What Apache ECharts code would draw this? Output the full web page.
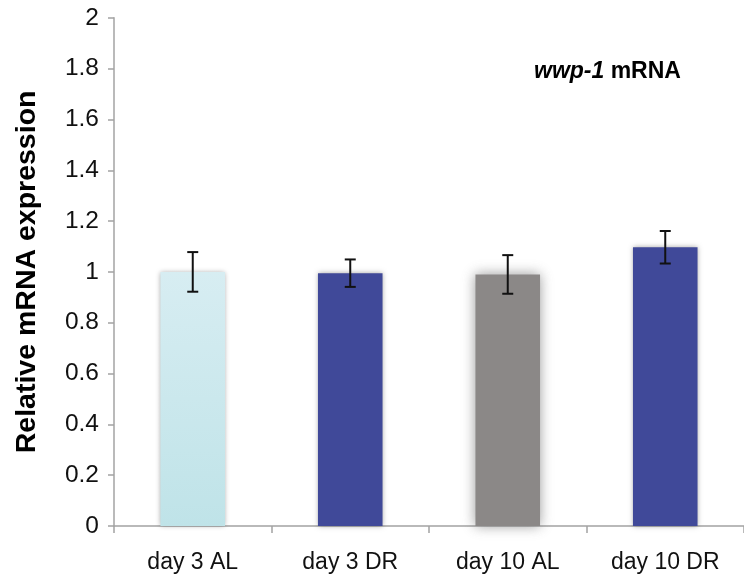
<!DOCTYPE html>
<html>
<head>
<meta charset="utf-8">
<script src="https://cdn.jsdelivr.net/npm/echarts@6/dist/echarts.min.js"></script>
<style>
  html, body { margin: 0; padding: 0; background: #fff; }
  #chart { width: 744px; height: 581px; }
</style>
</head>
<body>
<div id="chart"></div>
<script>
// Relative wwp-1 mRNA expression per condition (mean ± error)
const categories = ['day 3 AL', 'day 3 DR', 'day 10 AL', 'day 10 DR'];
const meanValues = [1.0, 0.995, 0.99, 1.097];
const errorValues = [0.078, 0.054, 0.076, 0.064];
const yTicks = [0, 0.2, 0.4, 0.6, 0.8, 1, 1.2, 1.4, 1.6, 1.8, 2];

const barColors = [
  new echarts.graphic.LinearGradient(0, 0, 0, 1, [
    { offset: 0, color: '#d7edf2' },
    { offset: 1, color: '#bfe3e8' }
  ]),
  '#404999',
  '#8b8887',
  '#404999'
];

const chart = echarts.init(document.getElementById('chart'), null, { renderer: 'canvas' });

const axisGray = '#a3a3a3';
const font = '"Liberation Sans", Arial, sans-serif';

chart.setOption({
  animation: false,
  backgroundColor: '#ffffff',
  title: {
    left: 529,
    top: 55,
    text: '{i|wwp-1}{b| mRNA}',
    textStyle: {
      rich: {
        i: { fontFamily: font, fontSize: 23, fontWeight: 'bold', fontStyle: 'italic', color: '#000' },
        b: { fontFamily: font, fontSize: 23, fontWeight: 'bold', color: '#000' }
      }
    }
  },
  grid: { left: 114, top: 17.8, width: 636, bottom: 55, containLabel: false },
  xAxis: {
    type: 'category',
    data: categories,
    boundaryGap: true,
    axisLine: { show: true, lineStyle: { color: axisGray, width: 1.5 } },
    axisTick: { show: true, alignWithLabel: false, length: 7, lineStyle: { color: axisGray, width: 1.5 } },
    axisLabel: { fontFamily: font, fontSize: 23, color: '#111', margin: 25 }
  },
  yAxis: {
    type: 'value',
    min: 0,
    max: 2,
    interval: 0.2,
    name: 'Relative mRNA expression',
    nameLocation: 'middle',
    nameGap: 72,
    nameTextStyle: { fontFamily: font, fontSize: 28.5, fontWeight: 'bold', color: '#000' },
    splitLine: { show: false },
    axisLine: { show: true, lineStyle: { color: axisGray, width: 1.5 } },
    axisTick: { show: true, length: 6, lineStyle: { color: axisGray, width: 1.5 } },
    axisLabel: {
      fontFamily: font, fontSize: 24.5, color: '#111', margin: 15,
      formatter: v => String(parseFloat(v.toFixed(1)))
    }
  },
  series: [
    {
      type: 'bar',
      barWidth: '41%',
      data: meanValues.map((v, i) => ({
        value: v,
        itemStyle: {
          color: barColors[i],
          shadowBlur: i === 2 ? 12 : 5,
          shadowColor: i === 2 ? 'rgba(90,90,90,0.6)' : 'rgba(0,0,0,0.35)',
          shadowOffsetX: 0,
          shadowOffsetY: 0
        }
      }))
    },
    {
      type: 'custom',
      z: 10,
      data: meanValues.map((v, i) => [i, v - errorValues[i], v + errorValues[i]]),
      renderItem: function (params, api) {
        const lo = api.coord([api.value(0), api.value(1)]);
        const hi = api.coord([api.value(0), api.value(2)]);
        const half = 5.5;
        const style = { stroke: '#111', lineWidth: 2 };
        return {
          type: 'group',
          children: [
            { type: 'line', shape: { x1: hi[0], y1: hi[1], x2: lo[0], y2: lo[1] }, style },
            { type: 'line', shape: { x1: hi[0] - half, y1: hi[1], x2: hi[0] + half, y2: hi[1] }, style },
            { type: 'line', shape: { x1: lo[0] - half, y1: lo[1], x2: lo[0] + half, y2: lo[1] }, style }
          ]
        };
      }
    }
  ]
});
</script>
</body>
</html>
